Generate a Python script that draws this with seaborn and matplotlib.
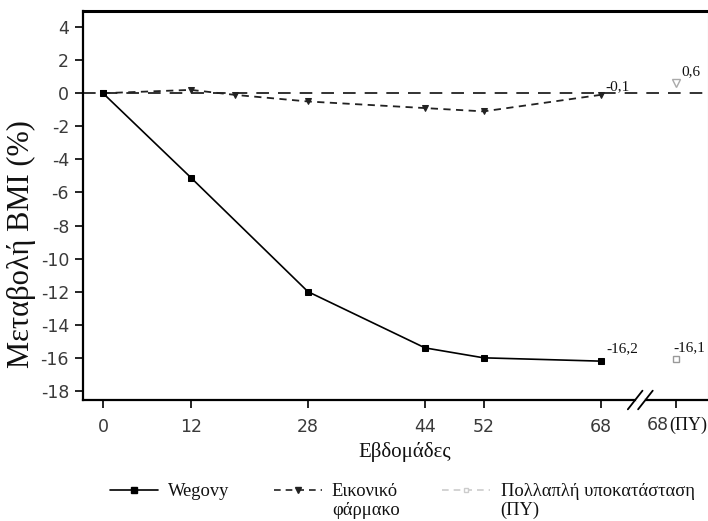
import matplotlib
matplotlib.use("Agg")
import matplotlib.pyplot as plt
import matplotlib.lines as mlines
import seaborn as sns

# --------------------------------------------------------------------------- #
# Data

weeks = [0, 12, 28, 44, 52, 68]
wegovy = [0.0, -5.1, -12.0, -15.4, -16.0, -16.2]

placebo_weeks = [0, 12, 18, 28, 44, 52, 68]
placebo = [0.0, 0.2, -0.1, -0.5, -0.9, -1.1, -0.1]

# multiple imputation values, drawn in the extra "68 (ΠΥ)" column
mi_week = 78.3
mi_wegovy = -16.1
mi_placebo = 0.6

x_ticks = weeks + [mi_week]
x_ticklabels = ["0", "12", "28", "44", "52", "68", ""]
y_ticks = list(range(4, -19, -2))

serif = "Liberation Serif"
tick_color = "#3a3a3a"
text_color = "#111111"

sns.set_theme(style="ticks")
plt.rcParams["font.family"] = ["DejaVu Sans"]
plt.rcParams["axes.unicode_minus"] = False

fig = plt.figure(figsize=(7.08, 5.21), dpi=100)
ax = fig.add_axes([83 / 708, 1 - 400 / 521, 1 - 83 / 708, 389 / 521])

# zero reference line
ax.axhline(0, color="#222222", lw=1.3, dashes=(7, 5), zorder=1)

sns.lineplot(x=weeks, y=wegovy, color="black", lw=1.2, marker="s",
             markersize=4, markeredgecolor="black", ax=ax, zorder=3)
sns.lineplot(x=placebo_weeks, y=placebo, color="#222222", lw=1.3,
             dashes=(4, 3), marker="v", markersize=4,
             markeredgecolor="#222222", ax=ax, zorder=2)

ax.plot([mi_week], [mi_wegovy], marker="s", ms=5, mfc="white",
        mec="#999999", mew=1, ls="none")
ax.plot([mi_week], [mi_placebo], marker="v", ms=6, mfc="white",
        mec="#aaaaaa", mew=1, ls="none")

# value labels
ann = dict(textcoords="offset points", fontsize=11, family=serif,
           ha="left", va="bottom", color=text_color)
ax.annotate("-0,1", (68, placebo[-1]), xytext=(3, 1.5), **ann)
ax.annotate("0,6", (mi_week, mi_placebo), xytext=(4, 3.5), **ann)
ax.annotate("-16,2", (68, wegovy[-1]), xytext=(4, 4), **ann)
ax.annotate("-16,1", (mi_week, mi_wegovy), xytext=(-2, 4), **ann)

ax.set_xlim(-2.73, 82.65)
ax.set_ylim(-18.55, 4.97)
ax.set_xticks(x_ticks)
ax.set_xticklabels(x_ticklabels)
ax.set_yticks(y_ticks)
ax.tick_params(axis="both", direction="out", length=6, width=1.2,
               labelsize=12.5, colors="black", labelcolor=tick_color)
ax.tick_params(axis="x", pad=7)
ax.tick_params(axis="y", pad=4)

# label of the multiple imputation column: "68" + "(ΠΥ)"
xt = ax.get_xaxis_transform()
lab_y = -0.0655
ax.annotate("68", (mi_week, lab_y), xycoords=xt, xytext=(-5.5, 0),
            textcoords="offset points", ha="right", va="center",
            fontsize=12.5, color=tick_color, annotation_clip=False)
ax.annotate("(ΠΥ)", (mi_week, lab_y), xycoords=xt, xytext=(-5, 0),
            textcoords="offset points", ha="left", va="center",
            family=serif, fontsize=13, color=text_color,
            annotation_clip=False)

for side in ["left", "bottom"]:
    ax.spines[side].set_linewidth(1.6)
    ax.spines[side].set_color("black")
ax.spines["top"].set_visible(True)
ax.spines["top"].set_linewidth(2.2)
ax.spines["top"].set_color("black")
ax.spines["right"].set_visible(True)
ax.spines["right"].set_color("#ececec")
ax.spines["right"].set_linewidth(1)

# axis break marks between the two "68" columns
brk = 73.4
ax.plot([brk - 0.35, brk + 0.35], [0, 0], color="white", lw=3,
        transform=xt, clip_on=False, zorder=5)
for dx in (-0.7, 0.7):
    ax.plot([brk + dx - 1.0, brk + dx + 1.0], [-0.024, 0.024],
            color="black", lw=1.3, transform=xt, clip_on=False, zorder=6)

ax.set_ylabel("Μεταβολή BMI (%)", family=serif, fontsize=22, color=text_color)
ax.yaxis.set_label_coords(-0.075, 0.40)
ax.set_xlabel("Εβδομάδες", family=serif, fontsize=15, color=text_color)
ax.xaxis.set_label_coords(0.514, -0.108)

handles = [
    mlines.Line2D([], [], color="black", lw=1.2, marker="s", ms=4),
    mlines.Line2D([], [], color="#222222", lw=1.2, dashes=(4, 3),
                  marker="v", ms=4),
    mlines.Line2D([], [], color="#cccccc", lw=1.2, dashes=(4, 3),
                  marker="s", ms=3, mfc="white", mec="#cccccc"),
]
labels = ["Wegovy", "Εικονικό", "Πολλαπλή υποκατάσταση"]
leg = fig.legend(handles, labels, loc="center", ncol=3,
                 bbox_to_anchor=(0.568, 1 - 492 / 521), frameon=False,
                 prop={"family": serif, "size": 13.3}, handlelength=2.6,
                 handletextpad=0.55, columnspacing=2.4)
for t in leg.get_texts():
    t.set_color(text_color)

# second lines of the two-line legend labels
fig.canvas.draw()
inv = fig.transFigure.inverted()
for t, extra in zip(leg.get_texts()[1:], ["φάρμακο", "(ΠΥ)"]):
    bb = t.get_window_extent()
    x0, y0 = inv.transform((bb.x0, bb.y0))
    fig.text(x0, y0 - 0.002, extra, family=serif, fontsize=13.3,
             ha="left", va="top", color=text_color)

fig.savefig("out.png", dpi=100)
